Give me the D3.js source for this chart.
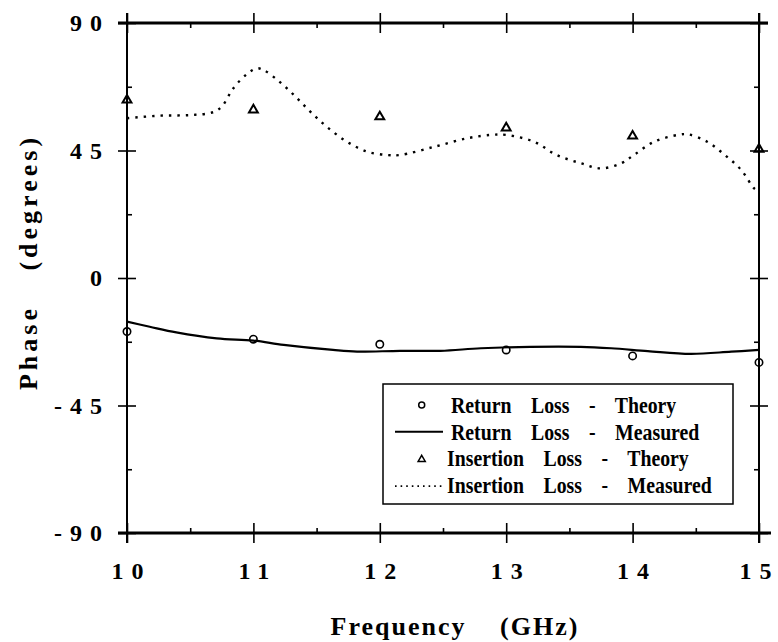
<!DOCTYPE html>
<html>
<head>
<meta charset="utf-8">
<script src="https://cdn.jsdelivr.net/npm/d3@7"></script>
<style>
    body { margin: 0; background: #fff; }
    svg { display: block; font-family: "Liberation Serif", "Times New Roman", serif; font-weight: bold; }
</style>
</head>
<body>
<svg id="chart" width="778" height="642"></svg>
<script>
// theory points (every 1 GHz)
const freqTheory = [10, 11, 12, 13, 14, 15];
const returnTheory = [-18.9, -21.6, -23.4, -25.4, -27.5, -29.8];
const insertionTheory = [62.8, 59.3, 56.9, 53.0, 50.1, 45.5];

// measured traces
const returnFreq = [10, 10.18, 10.39, 10.71, 11.0, 11.24, 11.63, 11.82, 12.16, 12.48, 12.8, 13.19, 13.59, 13.83, 14.12, 14.46, 14.78, 15.0];
const returnMeasured = [-15.4, -17.2, -19.2, -21.3, -22.1, -23.6, -25.4, -26.0, -25.7, -25.7, -24.8, -24.3, -24.3, -24.8, -25.8, -26.8, -26.0, -25.4];

const insertionFreq = [10.0, 10.26, 10.5, 10.68, 10.75, 10.84, 10.95, 11.03, 11.08, 11.19, 11.32, 11.45, 11.58, 11.74, 11.9, 12.06, 12.16, 12.43, 12.69, 12.88, 13.0, 13.22, 13.4, 13.59, 13.75, 13.91, 14.01, 14.17, 14.36, 14.44, 14.59, 14.73, 14.86, 14.96, 15.0];
const insertionMeasured = [56.4, 57.3, 57.5, 58.5, 60.5, 66.9, 72.0, 74.0, 73.4, 69.9, 64.6, 58.7, 53.4, 48.1, 44.6, 43.4, 43.4, 46.3, 49.3, 50.5, 50.5, 48.1, 43.4, 40.5, 38.7, 40.5, 43.4, 48.1, 50.5, 50.7, 48.1, 43.4, 38.1, 31.7, 30.5];

const xMajor = [10, 11, 12, 13, 14, 15];
const xMinor = [10.5, 11.5, 12.5, 13.5, 14.5];
const yMajor = [-90, -45, 0, 45, 90];
const yMinor = [-67.5, -22.5, 22.5, 67.5];

const legendLabels = ['Return Loss - Theory', 'Return Loss - Measured', 'Insertion Loss - Theory', 'Insertion Loss - Measured'];

const svg = d3.select('#chart');

const x = d3.scaleLinear().domain([10, 15]).range([127, 759]);
const y = d3.scaleLinear().domain([-90, 90]).range([533, 23]);

const tickFont = g => g.attr('font-family', null).attr('font-size', 24)
    .call(g => g.select('.domain').remove())
    .call(g => g.selectAll('.tick line').attr('stroke-width', 1.6));

// top axis
svg.append('g')
    .attr('transform', `translate(0,${y(90)})`)
    .call(d3.axisTop(x).tickValues(xMajor).tickSize(10).tickFormat(''))
    .call(tickFont)
    .call(g => g.selectAll('.tick line').attr('y1', 10));
svg.append('g')
    .attr('transform', `translate(0,${y(90)})`)
    .call(d3.axisTop(x).tickValues(xMinor).tickSize(-5).tickFormat(''))
    .call(tickFont);

// bottom axis with labels
svg.append('g')
    .attr('transform', `translate(0,${y(-90)})`)
    .call(d3.axisBottom(x).tickValues(xMajor).tickSize(10).tickFormat(d => String(d)))
    .call(tickFont)
    .call(g => g.selectAll('.tick line').attr('y1', -10))
    .call(g => g.selectAll('.tick text')
        .attr('y', 46).attr('dy', 0).attr('x', (d, i) => i === xMajor.length - 1 ? 0 : 4)
        .attr('fill', '#000')
        .style('letter-spacing', '8px'));
svg.append('g')
    .attr('transform', `translate(0,${y(-90)})`)
    .call(d3.axisBottom(x).tickValues(xMinor).tickSize(-5).tickFormat(''))
    .call(tickFont);

// left axis with labels
svg.append('g')
    .attr('transform', `translate(${x(10)},0)`)
    .call(d3.axisLeft(y).tickValues(yMajor).tickSize(9).tickFormat(d => String(d)))
    .call(tickFont)
    .call(g => g.selectAll('.tick line').attr('x1', 9))
    .call(g => g.selectAll('.tick text')
        .attr('x', -17).attr('dy', '0.32em')
        .attr('fill', '#000')
        .style('letter-spacing', '8px'));
svg.append('g')
    .attr('transform', `translate(${x(10)},0)`)
    .call(d3.axisLeft(y).tickValues(yMinor).tickSize(-5).tickFormat(''))
    .call(tickFont);

// right axis
svg.append('g')
    .attr('transform', `translate(${x(15)},0)`)
    .call(d3.axisRight(y).tickValues(yMajor).tickSize(9).tickFormat(''))
    .call(tickFont)
    .call(g => g.selectAll('.tick line').attr('x1', -9));
svg.append('g')
    .attr('transform', `translate(${x(15)},0)`)
    .call(d3.axisRight(y).tickValues(yMinor).tickSize(-5).tickFormat(''))
    .call(tickFont);

// frame
const frame = svg.append('g').attr('stroke', '#000');
frame.append('line').attr('x1', x(10) - 9).attr('x2', x(15) + 9).attr('y1', y(90)).attr('y2', y(90)).attr('stroke-width', 3);
frame.append('line').attr('x1', x(10) - 9).attr('x2', x(15) + 12).attr('y1', y(-90)).attr('y2', y(-90)).attr('stroke-width', 3);
frame.append('line').attr('x1', x(10)).attr('x2', x(10)).attr('y1', y(90) - 10).attr('y2', y(-90) + 10).attr('stroke-width', 2);
frame.append('line').attr('x1', x(15)).attr('x2', x(15)).attr('y1', y(90) - 10).attr('y2', y(-90) + 10).attr('stroke-width', 2);

// measured curves
const line = d3.line()
    .x(d => x(d[0]))
    .y(d => y(d[1]))
    .curve(d3.curveCatmullRom.alpha(0.5));

svg.append('path')
    .datum(returnFreq.map((f, i) => [f, returnMeasured[i]]))
    .attr('d', line)
    .attr('fill', 'none')
    .attr('stroke', '#000')
    .attr('stroke-width', 2.2);

svg.append('path')
    .datum(insertionFreq.map((f, i) => [f, insertionMeasured[i]]))
    .attr('d', line)
    .attr('fill', 'none')
    .attr('stroke', '#000')
    .attr('stroke-width', 2.4)
    .attr('stroke-dasharray', '2.4 6');

// theory markers
svg.selectAll('.rl-theory')
    .data(freqTheory)
    .enter()
    .append('circle')
    .attr('class', 'rl-theory')
    .attr('cx', d => x(d))
    .attr('cy', (d, i) => y(returnTheory[i]))
    .attr('r', 3.7)
    .attr('fill', 'none')
    .attr('stroke', '#000')
    .attr('stroke-width', 1.6);

const tri = d3.symbol(d3.symbolTriangle, 34);
svg.selectAll('.il-theory')
    .data(freqTheory)
    .enter()
    .append('path')
    .attr('class', 'il-theory')
    .attr('d', tri)
    .attr('transform', (d, i) => `translate(${x(d)},${y(insertionTheory[i])})`)
    .attr('fill', 'none')
    .attr('stroke', '#000')
    .attr('stroke-width', 2);

// legend
const legend = svg.append('g');
legend.append('rect')
    .attr('x', 383).attr('y', 384)
    .attr('width', 350).attr('height', 120)
    .attr('fill', '#fff')
    .attr('stroke', '#000')
    .attr('stroke-width', 1.5);

const rowY = i => 413 + i * 26.7;

legend.selectAll('.legend-text')
    .data(legendLabels)
    .enter()
    .append('text')
    .attr('class', 'legend-text')
    .attr('transform', (d, i) => `translate(${i < 2 ? 451 : 447},${rowY(i)}) scale(0.86,1)`)
    .attr('font-size', 23)
    .style('word-spacing', '17px')
    .text(d => d);

legend.append('circle')
    .attr('cx', 421.7).attr('cy', rowY(0) - 8)
    .attr('r', 3)
    .attr('fill', 'none').attr('stroke', '#000').attr('stroke-width', 1.5);
legend.append('line')
    .attr('x1', 395).attr('x2', 443)
    .attr('y1', rowY(1) - 8).attr('y2', rowY(1) - 8)
    .attr('stroke', '#000').attr('stroke-width', 2);
legend.append('path')
    .attr('d', d3.symbol(d3.symbolTriangle, 22))
    .attr('transform', `translate(421.7,${rowY(2) - 7})`)
    .attr('fill', 'none').attr('stroke', '#000').attr('stroke-width', 1.5);
legend.append('line')
    .attr('x1', 395).attr('x2', 443)
    .attr('y1', rowY(3) - 7).attr('y2', rowY(3) - 7)
    .attr('stroke', '#000').attr('stroke-width', 1.6)
    .attr('stroke-dasharray', '1.6 4');

// axis titles
svg.append('text')
    .attr('x', 455)
    .attr('y', 635)
    .attr('text-anchor', 'middle')
    .attr('font-size', 26)
    .style('letter-spacing', '2px')
    .style('word-spacing', '25px')
    .text('Frequency (GHz)');

svg.append('text')
    .attr('transform', 'translate(37,262) rotate(-90)')
    .attr('text-anchor', 'middle')
    .attr('font-size', 26)
    .style('letter-spacing', '4px')
    .style('word-spacing', '24px')
    .text('Phase (degrees)');
</script>
</body>
</html>
